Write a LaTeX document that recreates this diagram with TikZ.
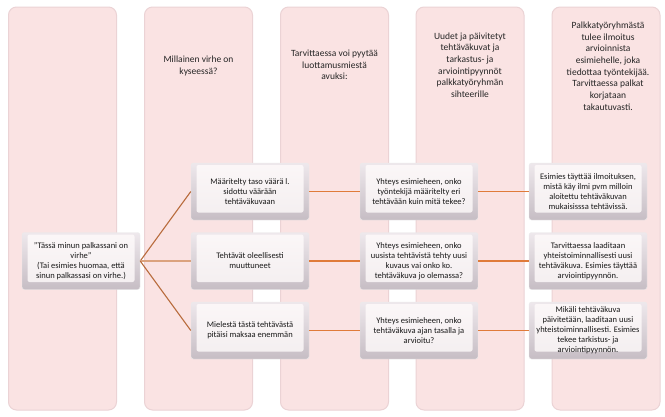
\documentclass[tikz,border=0pt]{standalone}
\usepackage{fontspec}
\setmainfont{Carlito}
\usepackage{tikz}
\usepackage{xcolor}
\definecolor{colpink}{HTML}{FAE3E3}
\definecolor{coledge}{HTML}{EBD3D5}
\definecolor{bevtop}{HTML}{EEE8EC}
\definecolor{bevbot}{HTML}{C6BDC4}
\definecolor{facecol}{HTML}{FFFBFB}
\definecolor{diagline}{HTML}{B86B3C}
\definecolor{midline}{HTML}{DBA27E}
\definecolor{orangeline}{HTML}{E07B3A}
\tikzstyle{column} = [rectangle, rounded corners=8pt, minimum width=108pt, minimum height=403pt,
fill=colpink, draw=coledge, line width=1pt]
\tikzstyle{header} = [align=center, text=black!85, font=\fontsize{9.5}{11.7}\selectfont]
\tikzstyle{boxes} = [rectangle, rounded corners=2.5pt, minimum width=118pt, minimum height=57pt,
align=center, text=black!90, font=\fontsize{8.5}{10}\selectfont, draw=black!8,
top color=bevtop, bottom color=bevbot,
path picture={\fill[rounded corners=2pt, facecol, fill opacity=0.8]
([shift={(5.5pt,-2pt)}]path picture bounding box.north west) rectangle
([shift={(-5.5pt,7.5pt)}]path picture bounding box.south east);}]
\tikzstyle{diag} = [diagline, line width=1.1pt]
\tikzstyle{mid} = [midline, line width=1.3pt]
\tikzstyle{link} = [orangeline, line width=1.1pt]
\usetikzlibrary{shapes}

\begin{document}
\begin{tikzpicture}[x=1pt, y=-1pt, node distance=169pt]
            \useasboundingbox (0,0) rectangle (665,416);
            \node(col1) [column] at (62.5,208.5) {};
            \node(col2) [column] at (198.5,208.5) {};
            \node(col3) [column] at (334.5,208.5) {};
            \node(col4) [column] at (470,208.5) {};
            \node(col5) [column] at (606,208.5) {};
            \node(h2) [header] at (198.5,66) {Millainen virhe on\\kyseessä?};
            \node(h3) [header] at (334.5,65) {Tarvittaessa voi pyytää\\luottamusmiestä\\avuksi:};
            \node(h4) [header] at (470,65) {Uudet ja päivitetyt\\tehtäväkuvat ja\\tarkastus- ja\\arviointipyynnöt\\palkkatyöryhmän\\sihteerille};
            \node(h5) [header] at (608,66) {Palkkatyöryhmästä\\tulee ilmoitus\\arvioinnista\\esimiehelle, joka\\tiedottaa työntekijää.\\Tarvittaessa palkat\\korjataan\\takautuvasti.};
            \node(start) [boxes] at (81,261) {"Tässä minun palkassani on\\virhe"\\(Tai esimies huomaa, että\\sinun palkassasi on virhe.)};
            \node(err2) [boxes, right of=start] {Tehtävät oleellisesti\\muuttuneet};
            \node(err1) [boxes, above of=err2, node distance=69.5pt] {Määritelty taso väärä l.\\sidottu väärään\\tehtäväkuvaan};
            \node(err3) [boxes, below of=err2, node distance=69.5pt] {Mielestä tästä tehtävästä\\pitäisi maksaa enemmän};
            \node(ask1) [boxes, right of=err1] {Yhteys esimieheen, onko\\työntekijä määritelty eri\\tehtävään kuin mitä tekee?};
            \node(ask2) [boxes, right of=err2] {Yhteys esimieheen, onko\\uusista tehtävistä tehty uusi\\kuvaus vai onko ko.\\tehtäväkuva jo olemassa?};
            \node(ask3) [boxes, right of=err3] {Yhteys esimieheen, onko\\tehtäväkuva ajan tasalla ja\\arvioitu?};
            \node(act1) [boxes, right of=ask1] {Esimies täyttää ilmoituksen,\\mistä käy ilmi pvm milloin\\aloitettu tehtäväkuvan\\mukaisisssa tehtävissä.};
            \node(act2) [boxes, right of=ask2] {Tarvittaessa laaditaan\\yhteistoiminnallisesti uusi\\tehtäväkuva. Esimies täyttää\\arviointipyynnön.};
            \node(act3) [boxes, right of=ask3] {Mikäli tehtäväkuva\\päivitetään, laaditaan uusi\\yhteistoiminnallisesti. Esimies\\tekee tarkistus- ja\\arviointipyynnön.};
            \draw[diag] (start.east) -- (err1.west);
            \draw[mid] (start.east) -- (err2.west);
            \draw[diag] (start.east) -- (err3.west);
            \draw[link] (err1) -- (ask1);
            \draw[link] (err2) -- (ask2);
            \draw[link] (err3) -- (ask3);
            \draw[link] (ask1) -- (act1);
            \draw[link] (ask2) -- (act2);
            \draw[link] (ask3) -- (act3);
        \end{tikzpicture}
\end{document}
